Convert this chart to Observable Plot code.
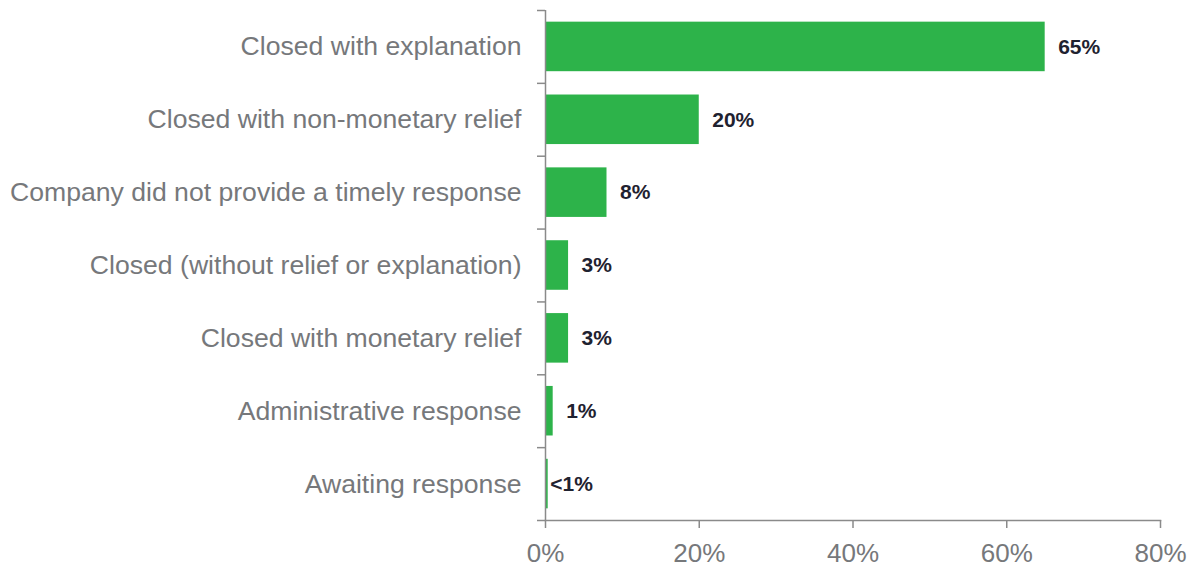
<!DOCTYPE html>
<html><head><meta charset="utf-8">
<script src="https://cdn.jsdelivr.net/npm/d3@7"></script>
<script src="https://cdn.jsdelivr.net/npm/@observablehq/plot@0.6"></script>
<style>body{margin:0;background:#fff}</style>
</head><body><div id="chart"></div>
<script>
const categories = [
  "Closed with explanation",
  "Closed with non-monetary relief",
  "Company did not provide a timely response",
  "Closed (without relief or explanation)",
  "Closed with monetary relief",
  "Administrative response",
  "Awaiting response"
];
const values = [65, 20, 8, 3, 3, 1, 0.35];
const valueLabels = ["65%", "20%", "8%", "3%", "3%", "1%", "<1%"];
const xTicks = [0, 20, 40, 60, 80];

const data = categories.map((c, i) => ({category: c, value: values[i], label: valueLabels[i]}));

const W = 1193, H = 568, mt = 10, mb = 48, ml = 545, mr = 33;
const step = (H - mt - mb) / categories.length;
const axisColor = "#8a8a8a", textColor = "#76787b";

const chart = Plot.plot({
  width: W, height: H,
  marginTop: mt, marginBottom: mb, marginLeft: ml, marginRight: mr,
  style: {fontFamily: "Arial, 'Liberation Sans', sans-serif", background: "#fff"},
  x: {domain: [0, 80], label: null},
  y: {domain: categories, paddingInner: 0.32, paddingOuter: 0.16, round: false, label: null},
  marks: [
    Plot.barX(data, {y: "category", x: "value", fill: "#2db34a"}),
    Plot.ruleX([0], {stroke: axisColor, strokeWidth: 1.5}),
    Plot.frame({anchor: "bottom", stroke: axisColor, strokeWidth: 1.5}),
    Plot.axisY({ticks: categories, tickSize: 8, tickFormat: () => "", label: null, dy: -step / 2, stroke: axisColor, strokeOpacity: 1, strokeWidth: 1.5}),
    Plot.axisY({ticks: [categories[categories.length - 1]], tickSize: 8, tickFormat: () => "", label: null, dy: step / 2, stroke: axisColor, strokeOpacity: 1, strokeWidth: 1.5}),
    Plot.axisY({tickSize: 0, tickPadding: 24, fontSize: 26.6, label: null, fill: textColor}),
    Plot.axisX({ticks: xTicks, tickSize: 8, tickPadding: 15, tickFormat: d => d + "%", label: null, fontSize: 26, fill: textColor, stroke: axisColor, strokeOpacity: 1, strokeWidth: 1.5}),
    Plot.text(data.filter(d => d.value >= 1), {y: "category", x: "value", text: "label", textAnchor: "start", dx: 13, fontSize: 21, fontWeight: "bold", fill: "#1f2230"}),
    Plot.text(data.filter(d => d.value < 1), {y: "category", x: "value", text: "label", textAnchor: "start", dx: 2, fontSize: 21, fontWeight: "bold", fill: "#1f2230"})
  ]
});
document.getElementById("chart").appendChild(chart);
</script>
</body></html>
